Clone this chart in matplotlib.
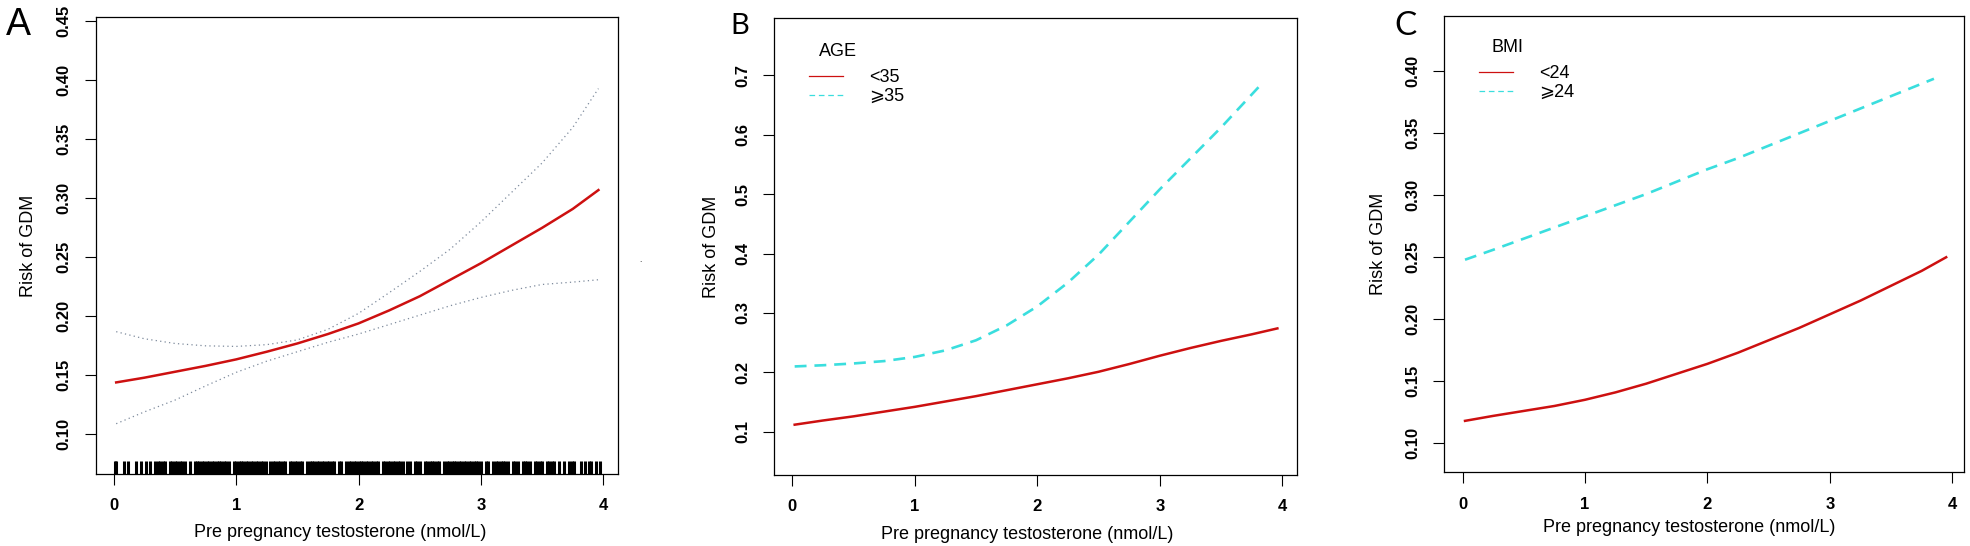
#!/usr/bin/env python3
# -*- coding: utf-8 -*-
"""
GDM risk vs pre pregnancy testosterone, three panels (A overall, B by age, C by BMI)
"""

import matplotlib
matplotlib.use('Agg')
import matplotlib.pyplot as mpl
from matplotlib.lines import Line2D

########################################################################################
# DATA
########################################################################################

t_grid = [0.02, 0.25, 0.5, 0.75, 1.0, 1.25, 1.5, 1.75, 2.0, 2.25, 2.5, 2.75, 3.0, 3.25, 3.5, 3.75, 3.96]

# panel A: overall fit with 95% CI
a_fit   = [0.144, 0.148, 0.153, 0.158, 0.1635, 0.170, 0.177, 0.185, 0.194, 0.205, 0.217, 0.231, 0.245, 0.260, 0.275, 0.291, 0.307]
a_upper = [0.187, 0.181, 0.177, 0.175, 0.1745, 0.176, 0.180, 0.189, 0.2025, 0.220, 0.238, 0.257, 0.280, 0.305, 0.330, 0.360, 0.393]
a_lower = [0.109, 0.119, 0.129, 0.141, 0.1525, 0.162, 0.170, 0.178, 0.185, 0.193, 0.201, 0.209, 0.216, 0.222, 0.227, 0.229, 0.231]

# rug of observed testosterone values
rug_x = [0.01, 0.02, 0.08, 0.12, 0.18, 0.22, 0.26, 0.30, 0.34, 0.36, 0.38, 0.40, 0.42, 0.46, 0.48,
         0.50, 0.52, 0.54, 0.56, 0.58, 0.62, 0.66, 0.68, 0.70, 0.72, 0.74, 0.76, 0.78, 0.80, 0.82,
         0.84, 0.86, 0.88, 0.90, 0.92, 0.94, 0.98, 1.00, 1.02, 1.04, 1.06, 1.08, 1.10, 1.12, 1.14,
         1.16, 1.18, 1.20, 1.22, 1.24, 1.28, 1.30, 1.32, 1.34, 1.36, 1.38, 1.40, 1.44, 1.46, 1.48,
         1.50, 1.52, 1.54, 1.58, 1.60, 1.62, 1.64, 1.66, 1.68, 1.70, 1.72, 1.74, 1.76, 1.78, 1.80,
         1.84, 1.86, 1.90, 1.92, 1.94, 1.96, 1.98, 2.00, 2.02, 2.04, 2.06, 2.08, 2.10, 2.12, 2.14,
         2.16, 2.20, 2.22, 2.24, 2.26, 2.28, 2.30, 2.32, 2.34, 2.36, 2.40, 2.42, 2.46, 2.48, 2.50,
         2.54, 2.56, 2.58, 2.60, 2.62, 2.64, 2.66, 2.70, 2.72, 2.74, 2.76, 2.78, 2.80, 2.82, 2.84,
         2.86, 2.88, 2.90, 2.92, 2.94, 2.96, 2.98, 3.00, 3.04, 3.06, 3.10, 3.12, 3.14, 3.16, 3.18,
         3.20, 3.22, 3.26, 3.28, 3.30, 3.34, 3.36, 3.38, 3.40, 3.44, 3.46, 3.48, 3.50, 3.54, 3.56,
         3.58, 3.60, 3.64, 3.68, 3.72, 3.74, 3.76, 3.82, 3.85, 3.88, 3.90, 3.94, 3.97]

# panel B: by age
b_t_young = [0.02, 0.25, 0.5, 0.75, 1.0, 1.25, 1.5, 1.75, 2.0, 2.25, 2.5, 2.75, 3.0, 3.25, 3.5, 3.75, 3.96]
b_young   = [0.112, 0.119, 0.126, 0.134, 0.142, 0.151, 0.160, 0.170, 0.180, 0.190, 0.201, 0.214, 0.228, 0.241, 0.253, 0.264, 0.274]
b_t_old   = [0.02, 0.25, 0.5, 0.75, 1.0, 1.25, 1.5, 1.75, 2.0, 2.25, 2.5, 2.75, 3.0, 3.25, 3.5, 3.82]
b_old     = [0.210, 0.212, 0.215, 0.219, 0.226, 0.237, 0.254, 0.279, 0.311, 0.351, 0.398, 0.453, 0.508, 0.560, 0.612, 0.683]

# panel C: by BMI
c_t_low  = [0.02, 0.25, 0.5, 0.75, 1.0, 1.25, 1.5, 1.75, 2.0, 2.25, 2.5, 2.75, 3.0, 3.25, 3.5, 3.75, 3.95]
c_low    = [0.118, 0.122, 0.126, 0.130, 0.135, 0.141, 0.148, 0.156, 0.164, 0.173, 0.183, 0.193, 0.204, 0.215, 0.227, 0.239, 0.250]
c_t_high = [0.02, 0.25, 0.5, 0.75, 1.0, 1.25, 1.5, 1.75, 2.0, 2.25, 2.5, 2.75, 3.0, 3.25, 3.5, 3.75, 3.85]
c_high   = [0.248, 0.256, 0.265, 0.274, 0.283, 0.292, 0.301, 0.311, 0.321, 0.330, 0.340, 0.350, 0.360, 0.370, 0.380, 0.390, 0.394]

x_ticks  = [0, 1, 2, 3, 4]
a_yticks = [0.10, 0.15, 0.20, 0.25, 0.30, 0.35, 0.40, 0.45]
b_yticks = [0.1, 0.2, 0.3, 0.4, 0.5, 0.6, 0.7]
c_yticks = [0.10, 0.15, 0.20, 0.25, 0.30, 0.35, 0.40]

age_labels = ['<35', '\u2a7e35']
bmi_labels = ['<24', '\u2a7e24']

########################################################################################
# STYLE
########################################################################################

mpl.rcParams['font.family'] = ['Liberation Sans', 'DejaVu Sans', 'Noto Sans CJK SC']

RED  = '#cd1010'
CYAN = '#3adede'
CI   = '#7d8a9c'
XLAB = 'Pre pregnancy testosterone (nmol/L)'
YLAB = 'Risk of GDM'


def style_axes(ax, xlim, ylim, yticks, yfmt, xlab_x, xlab_y, ylab_x):
    ax.set_xlim(*xlim)
    ax.set_ylim(*ylim)
    ax.set_xticks(x_ticks)
    ax.set_xticklabels([str(v) for v in x_ticks], fontsize=12, fontweight='bold')
    ax.set_yticks(yticks)
    ax.set_yticklabels([yfmt % v for v in yticks], fontsize=12, fontweight='bold',
                       rotation=90, va='center')
    ax.tick_params(direction='out', length=8, width=0.8, pad=9.5)
    for s in ax.spines.values():
        s.set_linewidth(0.9)
    ax.set_xlabel(XLAB, fontsize=13, va='center')
    ax.set_ylabel(YLAB, fontsize=13, va='center')
    ax.xaxis.set_label_coords(xlab_x, xlab_y)
    ax.yaxis.set_label_coords(ylab_x, 0.5)


def group_legend(ax, title, labels, title_xy, anchor):
    ax.text(title_xy[0], title_xy[1], title, transform=ax.transAxes,
            fontsize=13, ha='center', va='center')
    handles = [Line2D([], [], color=RED, lw=0.9),
               Line2D([], [], color=CYAN, lw=0.9, dashes=(4.5, 3))]
    ax.legend(handles, labels, loc='upper left', bbox_to_anchor=anchor,
              frameon=False, fontsize=13, handlelength=1.9, handletextpad=1.45,
              labelspacing=0.1, borderpad=0, borderaxespad=0)


########################################################################################
# PLOT
########################################################################################

fig = mpl.figure(figsize=(19.7, 5.46), dpi=100)

axA = fig.add_axes([0.0486, 0.1319, 0.2653, 0.8364])
axB = fig.add_axes([0.3930, 0.1300, 0.2655, 0.8364])
axC = fig.add_axes([0.7331, 0.1350, 0.2640, 0.8363])

# A
axA.plot(t_grid, a_upper, color=CI, lw=0.9, dashes=(1, 2.6))
axA.plot(t_grid, a_lower, color=CI, lw=0.9, dashes=(1, 2.6))
axA.plot(t_grid, a_fit, color=RED, lw=1.8)
axA.vlines(rug_x, 0, 0.0285, color='black', lw=2.2, transform=axA.get_xaxis_transform())
style_axes(axA, (-0.147, 4.123), (0.0664, 0.4534), a_yticks, '%.2f', 0.4675, -0.129, -0.128)

# B
axB.plot(b_t_young, b_young, color=RED, lw=1.8)
axB.plot(b_t_old, b_old, color=CYAN, lw=1.9, dashes=(4.5, 3))
style_axes(axB, (-0.147, 4.122), (0.0273, 0.7957), b_yticks, '%.1f', 0.484, -0.131, -0.119)
group_legend(axB, 'AGE', age_labels, (0.1218, 0.9284), (0.0656, 0.889))

# C
axC.plot(c_t_low, c_low, color=RED, lw=1.8)
axC.plot(c_t_high, c_high, color=CYAN, lw=1.9, dashes=(4.5, 3))
style_axes(axC, (-0.150, 4.098), (0.0765, 0.4449), c_yticks, '%.2f', 0.4706, -0.122, -0.126)
group_legend(axC, 'BMI', bmi_labels, (0.1225, 0.930), (0.0667, 0.891))

# panel letters
fig.text(0.0091, 0.954, 'A', fontsize=27, ha='center', va='center')
fig.text(0.3756, 0.953, 'B', fontsize=21, ha='center', va='center', family='Lato')
fig.text(0.7135, 0.953, 'C', fontsize=24, ha='center', va='center', family='Lato')
fig.text(0.3249, 0.520, '.', fontsize=6, ha='center', va='baseline')

fig.savefig('out.png', dpi=100)
